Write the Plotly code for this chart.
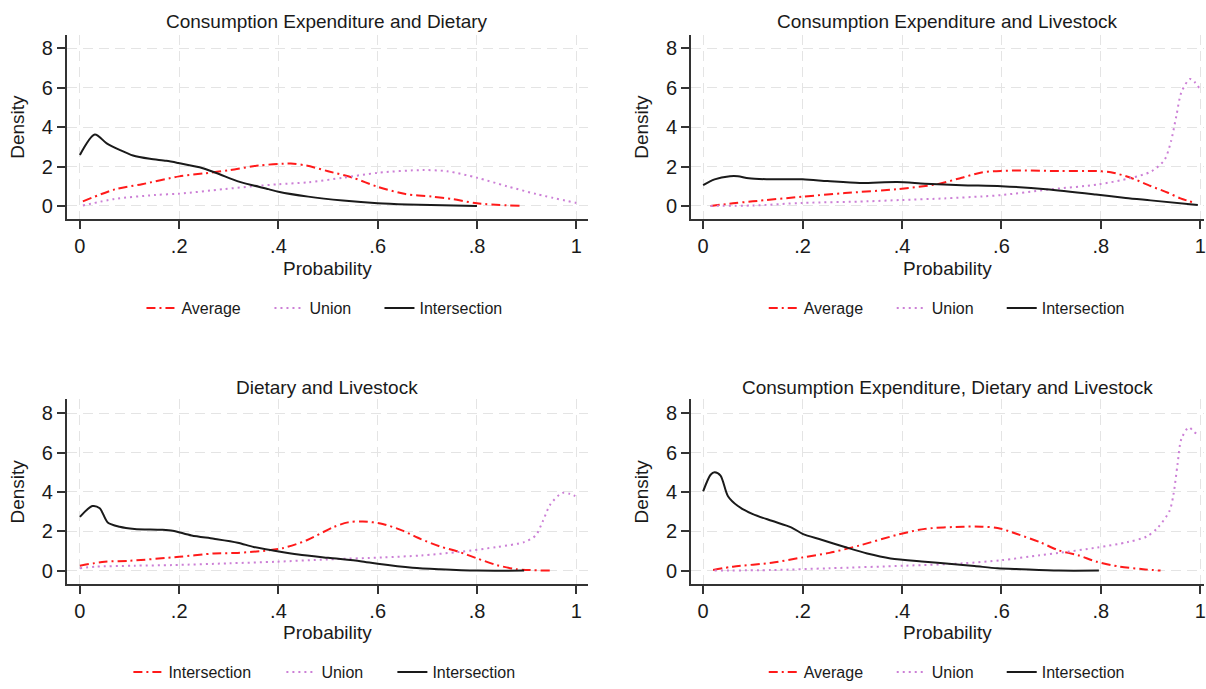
import plotly.graph_objects as go

# ---------------- data ----------------
titles = ["Consumption Expenditure and Dietary",
          "Consumption Expenditure and Livestock",
          "Dietary and Livestock",
          "Consumption Expenditure, Dietary and Livestock"]

x_tick_vals = [0, 0.2, 0.4, 0.6, 0.8, 1]
x_tick_text = ["0", ".2", ".4", ".6", ".8", "1"]
y_tick_vals = [0, 2, 4, 6, 8]
y_tick_text = ["0", "2", "4", "6", "8"]

# Panel 1: Consumption Expenditure and Dietary
p1_avg_x = [0.006, 0.072, 0.125, 0.2, 0.25, 0.3, 0.36, 0.425, 0.456, 0.5, 0.55, 0.6, 0.656, 0.71, 0.75, 0.8, 0.887]
p1_avg_y = [0.23, 0.85, 1.1, 1.5, 1.65, 1.81, 2.05, 2.15, 2.05, 1.76, 1.43, 0.97, 0.6, 0.47, 0.35, 0.13, 0.0]
p1_uni_x = [0.006, 0.07, 0.15, 0.2, 0.29, 0.35, 0.4, 0.46, 0.53, 0.6, 0.69, 0.74, 0.8, 0.86, 0.92, 1.0]
p1_uni_y = [0.02, 0.35, 0.55, 0.62, 0.85, 1.0, 1.1, 1.2, 1.43, 1.68, 1.82, 1.76, 1.43, 1.0, 0.6, 0.15]
p1_int_x = [0.0, 0.03, 0.054, 0.08, 0.107, 0.141, 0.174, 0.198, 0.241, 0.275, 0.322, 0.38, 0.4, 0.46, 0.53, 0.6, 0.66, 0.8]
p1_int_y = [2.59, 3.63, 3.18, 2.85, 2.56, 2.39, 2.29, 2.18, 1.96, 1.67, 1.22, 0.85, 0.72, 0.47, 0.27, 0.13, 0.07, 0.0]

# Panel 2: Consumption Expenditure and Livestock
p2_avg_x = [0.015, 0.06, 0.1, 0.2, 0.285, 0.39, 0.47, 0.52, 0.56, 0.6, 0.64, 0.715, 0.79, 0.82, 0.861, 0.9, 0.935, 0.96, 0.99]
p2_avg_y = [0.0, 0.13, 0.23, 0.47, 0.65, 0.85, 1.1, 1.43, 1.7, 1.78, 1.8, 1.77, 1.77, 1.71, 1.42, 1.01, 0.67, 0.38, 0.15]
p2_uni_x = [0.015, 0.1, 0.2, 0.33, 0.4, 0.485, 0.56, 0.6, 0.694, 0.794, 0.861, 0.902, 0.928, 0.941, 0.952, 0.962, 0.979, 0.989, 0.999]
p2_uni_y = [0.0, 0.02, 0.15, 0.23, 0.3, 0.38, 0.48, 0.55, 0.83, 1.09, 1.42, 1.76, 2.34, 3.28, 4.6, 5.78, 6.45, 6.28, 5.94]
p2_int_x = [0.0, 0.023, 0.054, 0.07, 0.092, 0.138, 0.2, 0.25, 0.315, 0.39, 0.446, 0.52, 0.6, 0.69, 0.79, 0.85, 0.9, 0.995]
p2_int_y = [1.05, 1.35, 1.51, 1.51, 1.4, 1.35, 1.35, 1.26, 1.16, 1.21, 1.13, 1.05, 1.0, 0.85, 0.58, 0.4, 0.28, 0.05]

# Panel 3: Dietary and Livestock
p3_avg_x = [0.0, 0.05, 0.1, 0.2, 0.27, 0.318, 0.38, 0.41, 0.456, 0.51, 0.54, 0.57, 0.61, 0.65, 0.687, 0.725, 0.764, 0.8, 0.84, 0.88, 0.948]
p3_avg_y = [0.25, 0.45, 0.5, 0.7, 0.87, 0.9, 1.03, 1.15, 1.53, 2.2, 2.45, 2.5, 2.37, 2.03, 1.6, 1.23, 0.95, 0.62, 0.28, 0.07, 0.0]
p3_uni_x = [0.0, 0.033, 0.11, 0.187, 0.3, 0.395, 0.5, 0.61, 0.687, 0.764, 0.84, 0.895, 0.918, 0.933, 0.948, 0.972, 0.987, 0.998]
p3_uni_y = [0.12, 0.2, 0.25, 0.28, 0.37, 0.45, 0.57, 0.67, 0.77, 0.95, 1.2, 1.45, 1.78, 2.53, 3.37, 3.95, 3.9, 3.78]
p3_int_x = [0.0, 0.025, 0.04, 0.056, 0.08, 0.11, 0.164, 0.187, 0.225, 0.27, 0.318, 0.35, 0.395, 0.44, 0.5, 0.565, 0.6, 0.67, 0.725, 0.8, 0.895]
p3_int_y = [2.73, 3.28, 3.17, 2.45, 2.23, 2.12, 2.08, 2.03, 1.78, 1.62, 1.42, 1.2, 1.0, 0.82, 0.65, 0.48, 0.35, 0.15, 0.07, 0.0, 0.0]

# Panel 4: Consumption Expenditure, Dietary and Livestock
p4_avg_x = [0.02, 0.06, 0.138, 0.2, 0.254, 0.315, 0.392, 0.446, 0.523, 0.56, 0.592, 0.63, 0.677, 0.715, 0.754, 0.792, 0.838, 0.885, 0.92]
p4_avg_y = [0.03, 0.2, 0.4, 0.67, 0.9, 1.28, 1.83, 2.12, 2.23, 2.23, 2.17, 1.87, 1.45, 1.03, 0.78, 0.45, 0.2, 0.07, 0.0]
p4_uni_x = [0.023, 0.138, 0.254, 0.408, 0.523, 0.6, 0.677, 0.715, 0.792, 0.854, 0.892, 0.915, 0.938, 0.946, 0.954, 0.962, 0.977, 0.988, 0.998]
p4_uni_y = [0.0, 0.03, 0.12, 0.25, 0.37, 0.53, 0.78, 0.9, 1.17, 1.45, 1.73, 2.2, 3.03, 3.87, 5.37, 6.7, 7.28, 7.03, 6.9]
p4_int_x = [0.0, 0.015, 0.023, 0.035, 0.05, 0.07, 0.1, 0.138, 0.177, 0.2, 0.238, 0.285, 0.33, 0.377, 0.446, 0.5, 0.546, 0.592, 0.64, 0.715, 0.796]
p4_int_y = [4.03, 4.87, 5.0, 4.83, 3.78, 3.28, 2.87, 2.53, 2.2, 1.87, 1.57, 1.2, 0.87, 0.62, 0.45, 0.33, 0.23, 0.12, 0.07, 0.0, 0.0]

series_names = [["Average", "Union", "Intersection"],
                ["Average", "Union", "Intersection"],
                ["Intersection", "Union", "Intersection"],
                ["Average", "Union", "Intersection"]]

panel_data = [
    [(p1_avg_x, p1_avg_y), (p1_uni_x, p1_uni_y), (p1_int_x, p1_int_y)],
    [(p2_avg_x, p2_avg_y), (p2_uni_x, p2_uni_y), (p2_int_x, p2_int_y)],
    [(p3_avg_x, p3_avg_y), (p3_uni_x, p3_uni_y), (p3_int_x, p3_int_y)],
    [(p4_avg_x, p4_avg_y), (p4_uni_x, p4_uni_y), (p4_int_x, p4_int_y)],
]

# ---------------- styling / layout ----------------
W, H = 1206, 689
FONT = "Liberation Sans, Arial, Helvetica, sans-serif"
TXT = "#1a1a1a"
AX = "#333333"
GRID = "#e4e4e4"

styles = [
    dict(color="#ff1a1a", width=2, dash="9px,4px,2px,4px"),
    dict(color="#cc7fd6", width=2, dash="2px,4px"),
    dict(color="#1a1a1a", width=2, dash="solid"),
]

x_doms = [[66.7 / W, 589 / W], [692 / W, 1.0]]
x_ranges = [[-0.0268, 1.0237], [-0.0247, 1.0074]]
y_doms = [[1 - 221.7 / H, 1 - 35 / H], [1 - 590.7 / H, 1 - 404 / H]]
y_range = [-0.673, 8.705]

title_y = [1 - 22 / H, 1 - 391.7 / H]
xtitle_y = [1 - 271.7 / H, 1 - 640 / H]
ytitle_x = [18 / W, 643 / W]
legend_y = [1 - 311.7 / H, 1 - 680 / H]
legend_x = [[141.7 / W, 765 / W], [128.6 / W, 765 / W]]
legend_widths = [[83, 65, None], [83, 65, None], [108, 66, None], [83, 65, None]]

fig = go.Figure()
layout = dict(
    width=W, height=H,
    margin=dict(l=0, r=0, t=0, b=0),
    paper_bgcolor="white", plot_bgcolor="white",
    font=dict(family=FONT, color=TXT, size=19),
    annotations=[],
)

for i in range(4):
    row, col = divmod(i, 2)
    sfx = "" if i == 0 else str(i + 1)
    xa, ya = "x" + sfx, "y" + sfx
    leg = "legend" + sfx
    for j, (xs, ys) in enumerate(panel_data[i]):
        tr = dict(
            x=xs, y=ys, xaxis=xa, yaxis=ya, mode="lines",
            name=series_names[i][j], legend=leg,
            line=dict(shape="spline", smoothing=0.8, **styles[j]),
            hoverinfo="skip",
        )
        if legend_widths[i][j]:
            tr["legendwidth"] = legend_widths[i][j]
        fig.add_trace(go.Scatter(**tr))

    layout["xaxis" + sfx] = dict(
        domain=x_doms[col], range=x_ranges[col], anchor=ya,
        tickvals=x_tick_vals, ticktext=x_tick_text,
        ticks="outside", ticklen=8, tickwidth=1.5, tickcolor=AX,
        showline=True, linecolor=AX, linewidth=1.5,
        showgrid=True, gridcolor=GRID, gridwidth=1, griddash="10px,6px",
        zeroline=False, tickfont=dict(size=20, family=FONT, color=TXT),
        ticklabeloverflow="allow",
        fixedrange=True,
    )
    layout["yaxis" + sfx] = dict(
        domain=y_doms[row], range=y_range, anchor=xa,
        tickvals=y_tick_vals, ticktext=y_tick_text,
        ticks="outside", ticklen=8, tickwidth=1.5, tickcolor=AX,
        showline=True, linecolor=AX, linewidth=1.5,
        showgrid=True, gridcolor=GRID, gridwidth=1, griddash="10px,6px",
        zeroline=False, tickfont=dict(size=20, family=FONT, color=TXT),
        fixedrange=True,
    )
    layout[leg] = dict(
        orientation="h", x=legend_x[row][col], xanchor="left",
        y=legend_y[row], yanchor="middle",
        bgcolor="rgba(0,0,0,0)", borderwidth=0,
        font=dict(size=16, family=FONT, color=TXT),
        itemwidth=30, traceorder="normal",
    )
    xc = (x_doms[col][0] + x_doms[col][1]) / 2
    yc = (y_doms[row][0] + y_doms[row][1]) / 2
    layout["annotations"] += [
        dict(text=titles[i], x=xc, y=title_y[row], xref="paper", yref="paper",
             showarrow=False, xanchor="center", yanchor="middle",
             font=dict(size=19, family=FONT, color=TXT)),
        dict(text="Probability", x=xc, y=xtitle_y[row], xref="paper", yref="paper",
             showarrow=False, xanchor="center", yanchor="middle",
             font=dict(size=19, family=FONT, color=TXT)),
        dict(text="Density", x=ytitle_x[col], y=yc, xref="paper", yref="paper",
             showarrow=False, xanchor="center", yanchor="middle", textangle=-90,
             font=dict(size=19, family=FONT, color=TXT)),
    ]

fig.update_layout(**layout)
fig.write_html("out.html", config={"displayModeBar": False},
               post_script="document.body.style.margin='0px';document.body.style.padding='0px';")
